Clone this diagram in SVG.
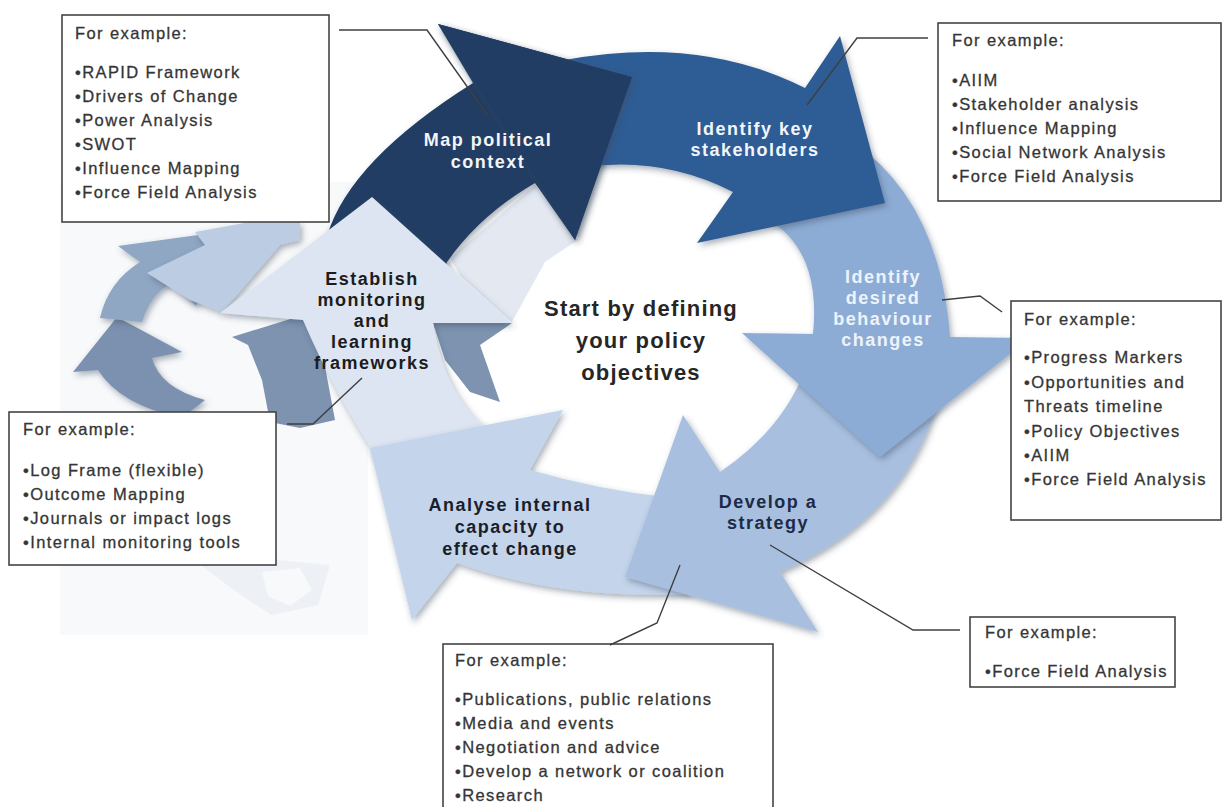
<svg xmlns="http://www.w3.org/2000/svg" width="1224" height="807" viewBox="0 0 1224 807">
<defs>
<filter id="sh" x="-20%" y="-20%" width="140%" height="140%">
<feDropShadow dx="2" dy="3" stdDeviation="3" flood-color="#3c4a5e" flood-opacity="0.45"/>
</filter>
<style>
.box{fill:#ffffff;stroke:#444;stroke-width:1.6}
.bt{font-family:"Liberation Sans",Arial,sans-serif;font-size:16.5px;letter-spacing:1.4px;fill:#353535;stroke:#353535;stroke-width:0.3}
.lbl{font-family:"Liberation Sans",Arial,sans-serif;font-size:18px;font-weight:bold;letter-spacing:1.5px;text-anchor:middle}
.ctr{font-family:"Liberation Sans",Arial,sans-serif;font-size:22px;font-weight:bold;letter-spacing:1.2px;text-anchor:middle;fill:#262626}
.ln{fill:none;stroke:#3f3f3f;stroke-width:1.4}
.sh{filter:url(#sh)}
</style>
</defs>
<rect width="1224" height="807" fill="#ffffff"/>
<g id="backdrop">
<rect x="60" y="182" width="308" height="453" fill="#f8f9fb"/>
<path d="M180,550 L330,565 L318,605 L272,615 L245,598 Z" fill="#e6ebf2" opacity="0.6"/>
<path d="M262,572 L300,568 L312,590 L290,606 L268,596 Z" fill="#f8f9fb"/>
</g>
<g id="faded-cycle">
<path class="sh" d="M117,317 L182,352 L152,358 Q160,388 205,400 L182,418 Q120,405 98,370 L73,372 Z" fill="#7b91af"/>
<path class="sh" d="M100,318 Q108,282 140,262 L118,246 L220,232 L196,306 L172,282 Q150,295 142,322 Z" fill="#90a7c4"/>
<path class="sh" d="M147,273 L205,245 L195,232 L250,222 L300,222 L300,240 L280,245 L222,312 L190,300 Z" fill="#bccde3"/>
<path d="M232,337 L300,316 L320,340 L335,420 L300,428 L270,422 L262,380 L248,345 Z" fill="#7d93b0"/>
<path d="M433,323 L512,323 L480,345 L500,402 L470,392 L445,360 Z" fill="#7d93b0"/>
<path d="M450,258 L535,185 L578,240 L545,262 L512,322 L460,275 Z" fill="#e4e9f1"/>
</g>
<g id="node-map-political-tail">
<path class="sh" d="M327,236 Q350,160 473,83 L438,24 L632,77 L575,240 L535,183 Q480,215 447,262 L430,300 L340,290 Z" fill="#213d63"/>
</g>
<g id="node-establish">
<path class="sh" d="M372,197 L512,323 L433,323 Q445,400 495,436 L385,470 Q335,395 303,320 L220,313 Z" fill="#dce5f1"/>
<text class="lbl" fill="#1c1c1c"><tspan x="372" y="285">Establish</tspan><tspan x="372" y="306">monitoring</tspan><tspan x="372" y="327">and</tspan><tspan x="372" y="348">learning</tspan><tspan x="372" y="369">frameworks</tspan></text>
</g>
<g id="node-analyse">
<path class="sh" d="M665,497 Q600,490 530,470 L563,410 L370,448 L412,620 L457,563 Q560,600 690,594 L700,560 Z" fill="#c3d4eb"/>
<text class="lbl" fill="#1a1d2a"><tspan x="510" y="511">Analyse internal</tspan><tspan x="510" y="533">capacity to</tspan><tspan x="510" y="555">effect change</tspan></text>
</g>
<g id="node-develop">
<path class="sh" d="M800,382 Q775,435 720,472 L683,415 L625,577 L818,632 L780,572 Q900,520 935,410 L960,360 Z" fill="#a8bfe0"/>
<text class="lbl" fill="#1b2b45"><tspan x="768" y="508">Develop a</tspan><tspan x="768" y="529">strategy</tspan></text>
</g>
<g id="node-behaviour">
<path class="sh" d="M800,215 L850,140 Q940,200 950,337 L1030,338 L880,457 L742,333 L813,334 Q822,245 760,215 Z" fill="#8dacd5"/>
<text class="lbl" fill="#eef3fa"><tspan x="883" y="283">Identify</tspan><tspan x="883" y="304">desired</tspan><tspan x="883" y="325">behaviour</tspan><tspan x="883" y="346">changes</tspan></text>
</g>
<g id="node-stakeholders">
<path class="sh" d="M565,60 Q700,35 805,88 L840,36 L885,203 L697,243 L733,192 Q660,155 580,168 Z" fill="#2f5c94"/>
<text class="lbl" fill="#f2f5fa"><tspan x="755" y="135">Identify key</tspan><tspan x="755" y="156">stakeholders</tspan></text>
</g>
<g id="node-map-political">
<path class="sh" d="M438,24 L632,77 L575,240 Z" fill="#213d63"/>
<text class="lbl" fill="#f2f5fa"><tspan x="488" y="146">Map political</tspan><tspan x="488" y="168">context</tspan></text>
</g>
<g id="node-center">
<text class="ctr"><tspan x="641" y="316">Start by defining</tspan><tspan x="641" y="348">your policy</tspan><tspan x="641" y="380">objectives</tspan></text>
</g>
<g id="box-map">
<rect class="box" x="62" y="15" width="267" height="207"/>
<text class="bt"><tspan x="75" y="39">For example:</tspan><tspan x="75" y="78">•RAPID Framework</tspan><tspan x="75" y="102">•Drivers of Change</tspan><tspan x="75" y="126">•Power Analysis</tspan><tspan x="75" y="150">•SWOT</tspan><tspan x="75" y="174">•Influence Mapping</tspan><tspan x="75" y="198">•Force Field Analysis</tspan></text>
</g>
<g id="box-stakeholders">
<rect class="box" x="938" y="23" width="283" height="178"/>
<text class="bt"><tspan x="952" y="46">For example:</tspan><tspan x="952" y="86">•AIIM</tspan><tspan x="952" y="110">•Stakeholder analysis</tspan><tspan x="952" y="134">•Influence Mapping</tspan><tspan x="952" y="158">•Social Network Analysis</tspan><tspan x="952" y="182">•Force Field Analysis</tspan></text>
</g>
<g id="box-behaviour">
<rect class="box" x="1011" y="301" width="210" height="219"/>
<text class="bt"><tspan x="1024" y="325">For example:</tspan><tspan x="1024" y="363">•Progress Markers</tspan><tspan x="1024" y="388">•Opportunities and</tspan><tspan x="1024" y="412">Threats timeline</tspan><tspan x="1024" y="437">•Policy Objectives</tspan><tspan x="1024" y="461">•AIIM</tspan><tspan x="1024" y="485">•Force Field Analysis</tspan></text>
</g>
<g id="box-monitoring">
<rect class="box" x="9" y="412" width="267" height="153"/>
<text class="bt"><tspan x="23" y="435">For example:</tspan><tspan x="23" y="476">•Log Frame (flexible)</tspan><tspan x="23" y="500">•Outcome Mapping</tspan><tspan x="23" y="524">•Journals or impact logs</tspan><tspan x="23" y="548">•Internal monitoring tools</tspan></text>
</g>
<g id="box-analyse">
<rect class="box" x="443" y="644" width="330" height="175"/>
<text class="bt"><tspan x="455" y="666">For example:</tspan><tspan x="455" y="705">•Publications, public relations</tspan><tspan x="455" y="729">•Media and events</tspan><tspan x="455" y="753">•Negotiation and advice</tspan><tspan x="455" y="777">•Develop a network or coalition</tspan><tspan x="455" y="801">•Research</tspan></text>
</g>
<g id="box-strategy">
<rect class="box" x="970" y="617" width="205" height="70"/>
<text class="bt"><tspan x="985" y="638">For example:</tspan><tspan x="985" y="677">•Force Field Analysis</tspan></text>
</g>
<g id="connectors">
<path class="ln" d="M339,30 L427,30 L488,116"/>
<path class="ln" d="M928,38 L857,38 L807,105"/>
<path class="ln" d="M942,300 L980,296 L1002,312"/>
<path class="ln" d="M287,424 L313,424 L362,378"/>
<path class="ln" d="M680,565 L657,623 L610,645"/>
<path class="ln" d="M770,545 L913,630 L960,630"/>
</g>
</svg>
